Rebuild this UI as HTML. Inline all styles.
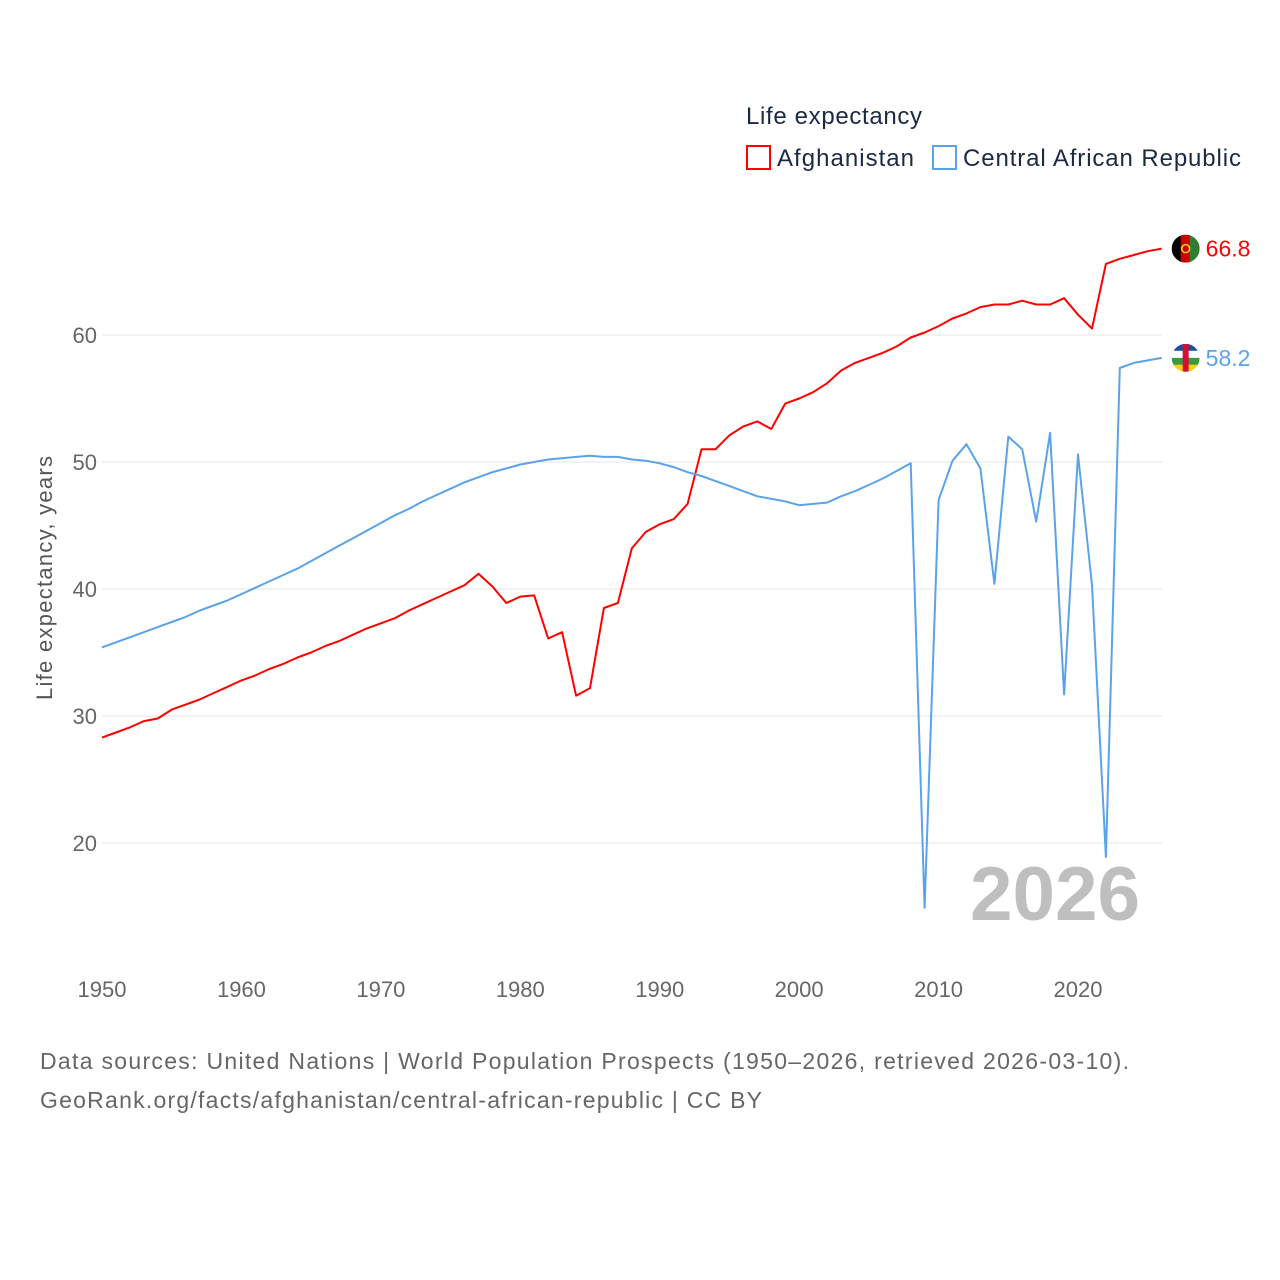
<!DOCTYPE html>
<html><head><meta charset="utf-8"><style>
body{margin:0;background:#fff;width:1280px;height:1280px;overflow:hidden;font-family:"Liberation Sans",sans-serif}
svg{display:block}
</style></head><body>
<svg id="chart" width="1280" height="1280">
<g id="grid"></g>
<g id="yt"></g>
<g id="xt"></g>
<text x="52" y="578" transform="rotate(-90 52 578)" text-anchor="middle" font-size="22" fill="#555" textLength="244" lengthAdjust="spacing">Life expectancy, years</text>
<text x="1140" y="920" text-anchor="end" font-size="76" font-weight="bold" fill="#bfbfbf" textLength="170" lengthAdjust="spacingAndGlyphs">2026</text>
<g>
<text x="746" y="124" font-size="24" fill="#1a2a44" textLength="176" lengthAdjust="spacing">Life expectancy</text>
<g><rect x="747" y="146" width="23" height="23" fill="none" stroke="#f00" stroke-width="2"/><text x="777" y="166" font-size="24" fill="#1a2a44" textLength="137" lengthAdjust="spacing">Afghanistan</text></g>
<g><rect x="933" y="146" width="23" height="23" fill="none" stroke="#5ba3e8" stroke-width="2"/><text x="963" y="166" font-size="24" fill="#1a2a44" textLength="278" lengthAdjust="spacing">Central African Republic</text></g>
</g>
<g id="series"></g>
<text x="40" y="1069" font-size="23" fill="#666" textLength="1089" lengthAdjust="spacing">Data sources: United Nations | World Population Prospects (1950–2026, retrieved 2026-03-10).</text>
<text x="40" y="1108" font-size="23" fill="#666" textLength="722" lengthAdjust="spacing">GeoRank.org/facts/afghanistan/central-african-republic | CC BY</text>
</svg>
<script>
const years=[];for(let y=1950;y<=2026;y++)years.push(y);
const afghanistan=[28.3,28.7,29.1,29.6,29.8,30.5,30.9,31.3,31.8,32.3,32.8,33.2,33.7,34.1,34.6,35.0,35.5,35.9,36.4,36.9,37.3,37.7,38.3,38.8,39.3,39.8,40.3,41.2,40.2,38.9,39.4,39.5,36.1,36.6,31.6,32.2,38.5,38.9,43.2,44.5,45.1,45.5,46.7,51.0,51.0,52.1,52.8,53.2,52.6,54.6,55.0,55.5,56.2,57.2,57.8,58.2,58.6,59.1,59.8,60.2,60.7,61.3,61.7,62.2,62.4,62.4,62.7,62.4,62.4,62.9,61.6,60.5,65.6,66.0,66.3,66.6,66.8];
const car=[35.4,35.8,36.2,36.6,37.0,37.4,37.8,38.3,38.7,39.1,39.6,40.1,40.6,41.1,41.6,42.2,42.8,43.4,44.0,44.6,45.2,45.8,46.3,46.9,47.4,47.9,48.4,48.8,49.2,49.5,49.8,50.0,50.2,50.3,50.4,50.5,50.4,50.4,50.2,50.1,49.9,49.6,49.2,48.9,48.5,48.1,47.7,47.3,47.1,46.9,46.6,46.7,46.8,47.3,47.7,48.2,48.7,49.3,49.9,14.9,47.0,50.1,51.4,49.5,40.4,52.0,51.0,45.3,52.3,31.7,50.6,40.3,18.9,57.4,57.8,58.0,58.2];
const yTicks=[20,30,40,50,60];
const xTicks=[1950,1960,1970,1980,1990,2000,2010,2020];
const NS="http://www.w3.org/2000/svg";
const xs=y=>102+(y-1950)*13.943;
const ys=v=>843-(v-20)*12.7;
function mk(t,a,p){const e=document.createElementNS(NS,t);for(const k in a)e.setAttribute(k,a[k]);p.appendChild(e);return e;}
const grid=document.getElementById('grid'),yt=document.getElementById('yt'),xt=document.getElementById('xt'),ser=document.getElementById('series');
yTicks.forEach(v=>{
 const l=mk('line',{x1:102,x2:1162,y1:ys(v),y2:ys(v),stroke:'#e6e6e6','stroke-width':1},grid);
 
 
 const t=mk('text',{x:97,y:ys(v)+8,'text-anchor':'end','font-size':22,fill:'#666'},yt);
 t.textContent=v;
 
 
});
xTicks.forEach(v=>{
 const t=mk('text',{x:xs(v),y:997,'text-anchor':'middle','font-size':22,fill:'#666'},xt);
 t.textContent=v;
 
 
});
function line(data,color,name){
 const d=data.map((v,i)=>(i?'L':'M')+xs(years[i]).toFixed(1)+','+ys(v).toFixed(1)).join('');
 const p=mk('path',{d:d,fill:'none',stroke:color,'stroke-width':2,'stroke-linejoin':'round'},ser);
 
 
 const last=data[data.length-1],lx=xs(years[years.length-1]),ly=ys(last);
 const g=mk('g',{},ser);
 
 
 return {g,lx,ly,last};
}
const a=line(afghanistan,'#f00','afghanistan');
mk('clipPath',{id:'ac'},a.g);
mk('circle',{cx:a.lx+24,cy:a.ly,r:14},document.getElementById('ac'));
const ag=mk('g',{'clip-path':'url(#ac)'},a.g);
mk('rect',{x:a.lx+10,y:a.ly-14,width:10,height:28,fill:'#000'},ag);
mk('rect',{x:a.lx+19,y:a.ly-14,width:10,height:28,fill:'#c00'},ag);
mk('rect',{x:a.lx+28,y:a.ly-14,width:10,height:28,fill:'#2e7d32'},ag);
mk('circle',{cx:a.lx+24,cy:a.ly,r:4,fill:'none',stroke:'#fd0','stroke-width':1.5},a.g);
const at=mk('text',{x:a.lx+44,y:a.ly+8,'font-size':23,fill:'#f00'},ser);
at.textContent=a.last.toFixed(1);


const c=line(car,'#5ba3e8','car');
const cx=c.lx+24,cy=c.ly;
mk('clipPath',{id:'cc'},c.g);
mk('circle',{cx:cx,cy:cy,r:14},document.getElementById('cc'));
const cg=mk('g',{'clip-path':'url(#cc)'},c.g);
[['#1a4fa0',-14],['#fff',-7],['#3a9a3a',0],['#f5d20a',7]].forEach(([f,o])=>mk('rect',{x:cx-14,y:cy+o,width:28,height:7,fill:f},cg));
mk('rect',{x:cx-3,y:cy-14,width:6,height:28,fill:'#d21034'},cg);
const ct=mk('text',{x:c.lx+44,y:c.ly+8,'font-size':23,fill:'#5ba3e8'},ser);
ct.textContent=c.last.toFixed(1);


</script>
</body></html>
